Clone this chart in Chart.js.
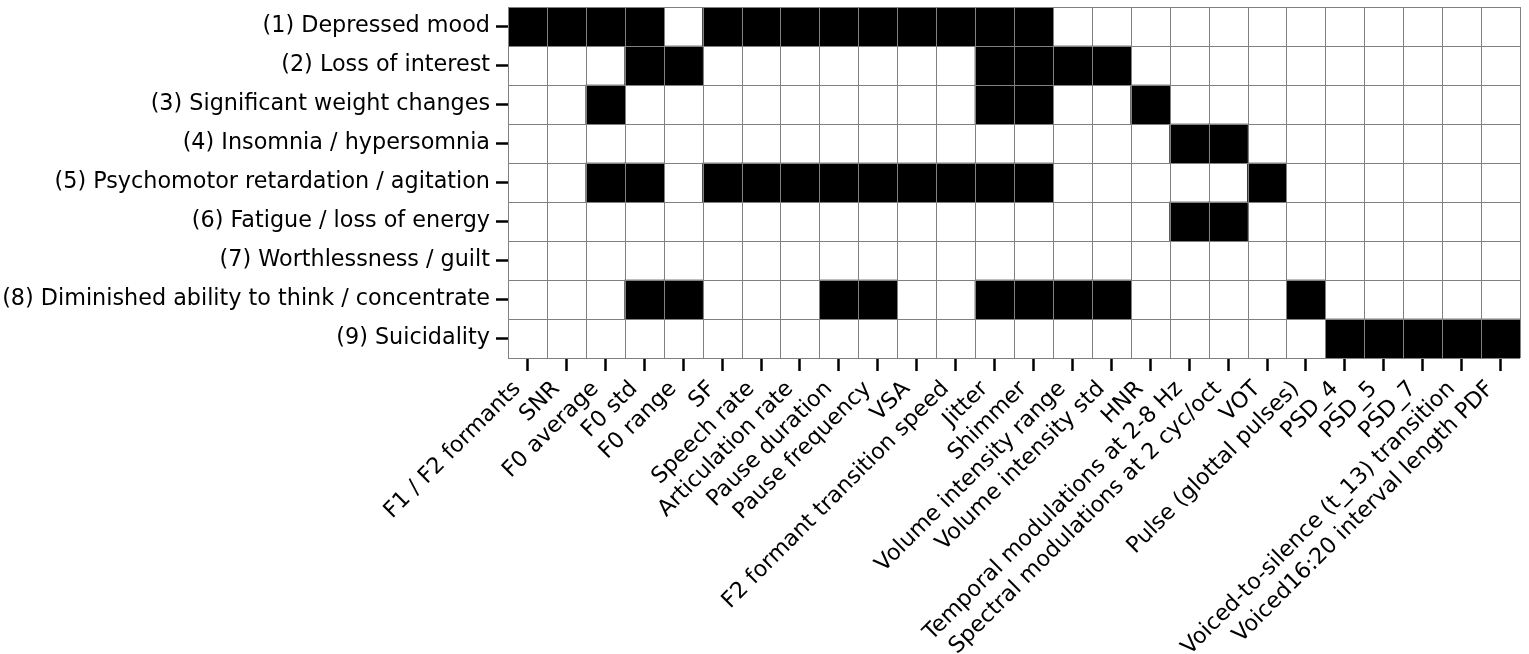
<!DOCTYPE html>
<html>
<head>
<meta charset="utf-8">
<script src="https://cdn.jsdelivr.net/npm/chart.js@4/dist/chart.umd.min.js"></script>
<style>
  body { margin: 0; background: #fff; }
  #wrap { width: 1529px; height: 654px; }
</style>
</head>
<body>
<div id="wrap"><canvas id="myChart"></canvas></div>
<script>
// Acoustic features (columns)
const features = [
    'F1 / F2 formants', 'SNR', 'F0 average', 'F0 std', 'F0 range', 'SF',
    'Speech rate', 'Articulation rate', 'Pause duration', 'Pause frequency',
    'VSA', 'F2 formant transition speed', 'Jitter', 'Shimmer',
    'Volume intensity range', 'Volume intensity std', 'HNR',
    'Temporal modulations at 2-8 Hz', 'Spectral modulations at 2 cyc/oct',
    'VOT', 'Pulse (glottal pulses)', 'PSD_4', 'PSD_5', 'PSD_7',
    'Voiced-to-silence (t_13) transition', 'Voiced16:20 interval length PDF'
];

// Symptoms (rows)
const symptoms = [
    '(1) Depressed mood',
    '(2) Loss of interest',
    '(3) Significant weight changes',
    '(4) Insomnia / hypersomnia',
    '(5) Psychomotor retardation / agitation',
    '(6) Fatigue / loss of energy',
    '(7) Worthlessness / guilt',
    '(8) Diminished ability to think / concentrate',
    '(9) Suicidality'
];

// 1 = feature linked to symptom
const depressedMood   = [1,1,1,1,0,1,1,1,1,1,1,1,1,1,0,0,0,0,0,0,0,0,0,0,0,0];
const lossOfInterest  = [0,0,0,1,1,0,0,0,0,0,0,0,1,1,1,1,0,0,0,0,0,0,0,0,0,0];
const weightChanges   = [0,0,1,0,0,0,0,0,0,0,0,0,1,1,0,0,1,0,0,0,0,0,0,0,0,0];
const insomnia        = [0,0,0,0,0,0,0,0,0,0,0,0,0,0,0,0,0,1,1,0,0,0,0,0,0,0];
const psychomotor     = [0,0,1,1,0,1,1,1,1,1,1,1,1,1,0,0,0,0,0,1,0,0,0,0,0,0];
const fatigue         = [0,0,0,0,0,0,0,0,0,0,0,0,0,0,0,0,0,1,1,0,0,0,0,0,0,0];
const worthlessness   = [0,0,0,0,0,0,0,0,0,0,0,0,0,0,0,0,0,0,0,0,0,0,0,0,0,0];
const concentration   = [0,0,0,1,1,0,0,0,1,1,0,0,1,1,1,1,0,0,0,0,1,0,0,0,0,0];
const suicidality     = [0,0,0,0,0,0,0,0,0,0,0,0,0,0,0,0,0,0,0,0,0,1,1,1,1,1];

const symptomRows = [depressedMood, lossOfInterest, weightChanges, insomnia,
    psychomotor, fatigue, worthlessness, concentration, suicidality];

Chart.defaults.font.family = "'DejaVu Sans', sans-serif";
Chart.defaults.font.size = 22.3;
Chart.defaults.color = '#000';

// One floating-bar dataset per row, each cell spans [row, row + 1]
const datasets = symptomRows.map((row, r) => ({
    label: symptoms[r],
    data: row.map(v => v ? [r, r + 1] : null),
    backgroundColor: '#000',
    borderWidth: 0,
    grouped: false,
    barPercentage: 1,
    categoryPercentage: 1
}));

// Gray cell borders drawn on top of the cells
const cellGrid = {
    id: 'cellGrid',
    afterDatasetsDraw(chart) {
        const { ctx, chartArea, scales } = chart;
        ctx.save();
        ctx.strokeStyle = '#808080';
        ctx.lineWidth = 1;
        ctx.beginPath();
        for (let i = 0; i <= features.length; i++) {
            const px = Math.round(scales.x.getPixelForValue(i - 0.5)) + 0.5;
            ctx.moveTo(px, chartArea.top);
            ctx.lineTo(px, chartArea.bottom);
        }
        for (let j = 0; j <= symptoms.length; j++) {
            const py = Math.round(scales.y.getPixelForValue(j)) + 0.5;
            ctx.moveTo(chartArea.left, py);
            ctx.lineTo(chartArea.right, py);
        }
        ctx.stroke();
        ctx.restore();
    }
};

new Chart(document.getElementById('myChart'), {
    type: 'bar',
    data: { labels: features, datasets: datasets },
    options: {
        responsive: true,
        maintainAspectRatio: false,
        animation: false,
        layout: { padding: { top: 7, right: 9, left: 0, bottom: 0 } },
        plugins: { legend: { display: false }, tooltip: { enabled: false } },
        scales: {
            x: {
                offset: true,
                border: { display: false },
                grid: {
                    offset: false,
                    drawOnChartArea: false,
                    tickLength: 13,
                    tickColor: '#000',
                    tickWidth: 2.5
                },
                ticks: { autoSkip: false, maxRotation: 45, minRotation: 45, padding: 5, labelOffset: -10 },
                afterFit(scale) {
                    scale.height = 296;
                    scale.paddingRight = 0;
                }
            },
            y: {
                min: 0,
                max: symptoms.length,
                reverse: true,
                border: { display: false },
                grid: {
                    drawOnChartArea: false,
                    tickLength: 12,
                    tickColor: '#000',
                    tickWidth: 2.5
                },
                afterBuildTicks(scale) {
                    scale.ticks = symptoms.map((s, i) => ({ value: i + 0.5 }));
                },
                ticks: {
                    padding: 6,
                    callback: (value) => symptoms[Math.floor(value)]
                },
                afterFit(scale) {
                    scale.width = 508;
                    scale.paddingTop = 0;
                    scale.paddingBottom = 0;
                }
            }
        }
    },
    plugins: [cellGrid]
});
</script>
</body>
</html>
